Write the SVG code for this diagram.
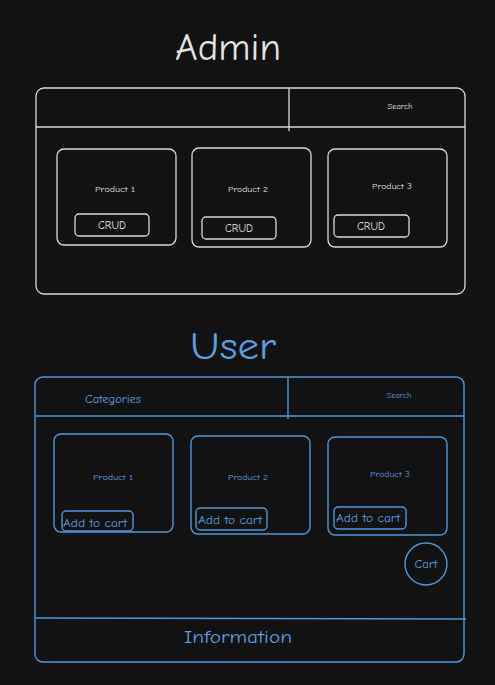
<svg xmlns="http://www.w3.org/2000/svg" width="495" height="685" viewBox="0 0 495 685">
  <style>
    .w { fill: none; stroke: #d9d9d9; stroke-width: 1.3; }
    .b { fill: none; stroke: #4f97da; stroke-width: 1.4; }
    text { font-family: "Comic Neue", "Liberation Sans", "DejaVu Sans", sans-serif; text-anchor: middle; }
    .tw { fill: #e2e2e2; }
    .tb { fill: #5a9fe0; }
    .small { font-size: 8.5px; }
    .btn { font-size: 11px; }
    .start { text-anchor: start; }
  </style>
  <rect x="0" y="0" width="495" height="685" fill="#121212"/>

  <!-- Admin screen -->
  <g id="admin">
    <text class="tw" x="228" y="60" font-size="38" textLength="106" lengthAdjust="spacingAndGlyphs">Admin</text>
    <rect class="w" x="36" y="88" width="429" height="206" rx="8"/>
    <line class="w" x1="36" y1="127" x2="465" y2="127"/>
    <line class="w" x1="289" y1="88" x2="289" y2="131"/>
    <text class="tw small" x="400" y="109">Search</text>
  </g>
  <g id="admin-product-1">
    <rect class="w" x="57" y="149" width="119" height="96" rx="7"/>
    <text class="tw small" x="115" y="192" textLength="40" lengthAdjust="spacingAndGlyphs">Product 1</text>
    <rect class="w" x="75" y="214" width="74" height="22" rx="4"/>
    <text class="tw btn" x="112" y="229">CRUD</text>
  </g>
  <g id="admin-product-2">
    <rect class="w" x="192" y="148" width="119" height="99" rx="7"/>
    <text class="tw small" x="248" y="192" textLength="40" lengthAdjust="spacingAndGlyphs">Product 2</text>
    <rect class="w" x="202" y="217" width="74" height="22" rx="4"/>
    <text class="tw btn" x="239" y="232">CRUD</text>
  </g>
  <g id="admin-product-3">
    <rect class="w" x="328" y="149" width="119" height="98" rx="7"/>
    <text class="tw small" x="392" y="189" textLength="40" lengthAdjust="spacingAndGlyphs">Product 3</text>
    <rect class="w" x="334" y="215" width="75" height="22" rx="4"/>
    <text class="tw btn" x="371" y="230">CRUD</text>
  </g>

  <!-- User screen -->
  <g id="user">
    <text class="tb" x="233" y="359" font-size="38" textLength="86" lengthAdjust="spacingAndGlyphs">User</text>
    <rect class="b" x="35" y="377" width="429" height="285" rx="8"/>
    <line class="b" x1="35" y1="416" x2="464" y2="416"/>
    <line class="b" x1="288" y1="377" x2="288" y2="419"/>
    <line class="b" x1="35" y1="618" x2="466" y2="619"/>
    <text class="tb" x="113" y="403" font-size="11" textLength="56" lengthAdjust="spacingAndGlyphs">Categories</text>
    <text class="tb small" x="399" y="398">Search</text>
    <text class="tb" x="238" y="643" font-size="18" textLength="108" lengthAdjust="spacingAndGlyphs">Information</text>
  </g>
  <g id="user-product-1">
    <rect class="b" x="54" y="434" width="119" height="98" rx="7"/>
    <text class="tb small" x="113" y="480" textLength="40" lengthAdjust="spacingAndGlyphs">Product 1</text>
    <rect class="b" x="62" y="511" width="71" height="20" rx="4"/>
    <text class="tb btn start" x="63" y="527" textLength="64" lengthAdjust="spacingAndGlyphs">Add to cart</text>
  </g>
  <g id="user-product-2">
    <rect class="b" x="191" y="436" width="119" height="98" rx="7"/>
    <text class="tb small" x="248" y="480" textLength="40" lengthAdjust="spacingAndGlyphs">Product 2</text>
    <rect class="b" x="196" y="508" width="71" height="22" rx="4"/>
    <text class="tb btn start" x="198" y="524" textLength="64" lengthAdjust="spacingAndGlyphs">Add to cart</text>
  </g>
  <g id="user-product-3">
    <rect class="b" x="328" y="437" width="119" height="98" rx="7"/>
    <text class="tb small" x="390" y="477" textLength="40" lengthAdjust="spacingAndGlyphs">Product 3</text>
    <rect class="b" x="334" y="507" width="72" height="22" rx="4"/>
    <text class="tb btn start" x="336" y="522" textLength="64" lengthAdjust="spacingAndGlyphs">Add to cart</text>
  </g>
  <g id="cart">
    <circle class="b" cx="426" cy="564" r="21"/>
    <text class="tb" x="426" y="568" font-size="11" textLength="23" lengthAdjust="spacingAndGlyphs">Cart</text>
  </g>
</svg>
